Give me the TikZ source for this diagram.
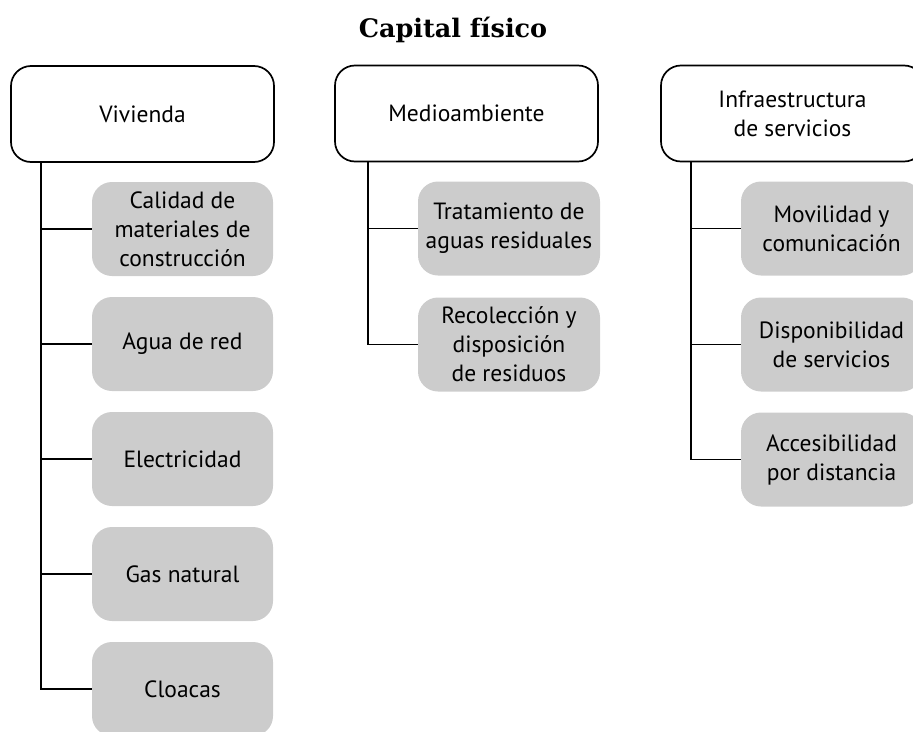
\documentclass[tikz,border=0pt]{standalone}
\usepackage{fontspec}
\setmainfont{PT Sans}
\newfontfamily\titlefont{DejaVu Serif}
\begin{document}
\begin{tikzpicture}[x=1pt,y=-1pt,
  head/.style={draw=black, line width=1.7pt, fill=white, rounded corners=20pt,
    minimum width=263pt, minimum height=96pt, inner sep=0pt, align=center,
    font=\fontsize{23.5}{29}\selectfont},
  item/.style={fill=boxgray, rounded corners=20pt, minimum width=181pt,
    minimum height=94pt, inner sep=0pt, align=center,
    font=\fontsize{23.5}{29}\selectfont},
  link/.style={draw=black, line width=1.7pt}]
\definecolor{boxgray}{RGB}{204,204,204}
\useasboundingbox (0,0) rectangle (913,731);
\node (title) at (453,30) {\titlefont\bfseries\fontsize{25.5}{30}\selectfont Capital físico};
% headers
\node[head] (viv) at (142.5,114) {Vivienda};
\node[head] (med) at (466.5,113.5) {Medioambiente};
\node[head] (inf) at (792.5,113.5) {Infraestructura\\de servicios};
% Vivienda items
\node[item] (v1) at (182.5,229) {Calidad de\\materiales de\\construcción};
\node[item] (v2) at (182.5,344) {Agua de red};
\node[item] (v3) at (182.5,459) {Electricidad};
\node[item] (v4) at (182.5,574) {Gas natural};
\node[item] (v5) at (182.5,689) {Cloacas};
% Medioambiente items
\node[item, minimum width=182pt] (m1) at (509,228.5) {Tratamiento de\\aguas residuales};
\node[item, minimum width=182pt] (m2) at (509,344.5) {Recolección y\\disposición\\de residuos};
% Infraestructura items
\node[item] (i1) at (831.5,228.5) {Movilidad y\\comunicación};
\node[item] (i2) at (831.5,344.5) {Disponibilidad\\de servicios};
\node[item] (i3) at (831.5,459.5) {Accesibilidad\\por distancia};
% trunks
\coordinate (tv) at (41,0);
\coordinate (tm) at (368,0);
\coordinate (ti) at (691,0);
\draw[link] (viv.south -| tv) |- (v5.west);
\foreach \n in {v1,v2,v3,v4} \draw[link] (\n.west -| tv) -- (\n.west);
\draw[link] (med.south -| tm) |- (m2.west);
\draw[link] (m1.west -| tm) -- (m1.west);
\draw[link] (inf.south -| ti) |- (i3.west);
\foreach \n in {i1,i2} \draw[link] (\n.west -| ti) -- (\n.west);
\end{tikzpicture}
\end{document}
